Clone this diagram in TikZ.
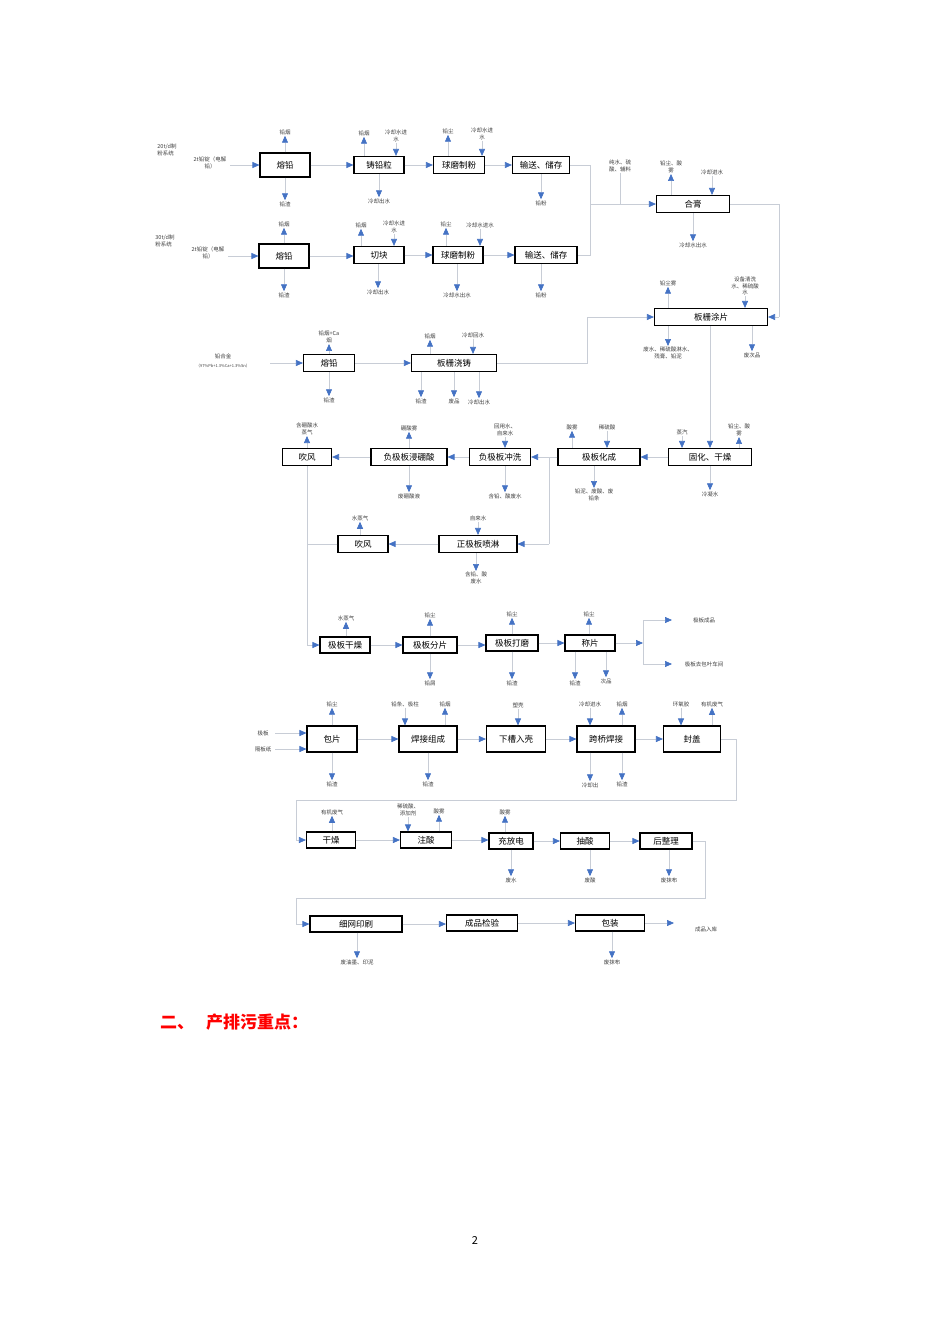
\documentclass[tikz,border=0pt]{standalone}
\usepackage{fontspec}
\setmainfont{Noto Sans CJK SC}
\usetikzlibrary{arrows.meta}
\definecolor{tipblue}{HTML}{4472C4}
\definecolor{lgray}{HTML}{C8CDD6}
\tikzset{
 bx/.style={draw,line width=1.1pt,minimum height=17pt,inner sep=0pt,font=\fontsize{8.5}{9}\selectfont},
 lab/.style={font=\fontsize{5.5}{6.5}\selectfont,text=black!75,align=center,inner sep=1pt},
 ln/.style={draw=lgray,line width=0.7pt},
 arr/.style={ln,-{Triangle[width=6pt,length=7pt,color=tipblue]}},
}
\newcommand\upout[5]{\node[lab] (#2) at (#3,#4) {#5}; \draw[arr] (#1.north -| #2) -- (#2.south);}
\newcommand\downout[5]{\node[lab] (#2) at (#3,#4) {#5}; \draw[arr] (#1.south -| #2) -- (#2.north);}
\newcommand\downin[5]{\node[lab] (#2) at (#3,#4) {#5}; \draw[arr] (#2.south) -- (#1.north -| #2);}
\begin{document}
\begin{tikzpicture}[x=1pt,y=-1pt]
\useasboundingbox[fill=white] (0,0) rectangle (950,1344);
% ---- row 1
\node[bx,minimum width=50pt,minimum height=24pt] (a1) at (285,165) {熔铅};
\node[bx,minimum width=50pt] (a2) at (379,165) {铸铅粒};
\node[bx,minimum width=51pt] (a3) at (459,165) {球磨制粉};
\node[bx,minimum width=57pt] (a4) at (541,165) {输送、储存};
\node[lab,align=left] (s1) at (167,150) {20t/d制\\粉系统};
\node[lab] (i1) at (210,163) {2t铅锭（电解\\铅）};
\coordinate (i1e) at (230,165);
\draw[arr] (i1e) -- (a1.west);
\draw[arr] (a1.east) -- (a2.west);
\draw[arr] (a2.east) -- (a3.west);
\draw[arr] (a3.east) -- (a4.west);
\upout{a1}{a1u}{285}{132}{铅烟}
\downout{a1}{a1d}{285}{204}{铅渣}
\upout{a2}{a2u}{364}{133}{铅烟}
\downin{a2}{a2i}{396}{136}{冷却水进\\水}
\downout{a2}{a2d}{379}{201}{冷却出水}
\upout{a3}{a3u}{448}{131}{铅尘}
\downin{a3}{a3i}{482}{134}{冷却水进\\水}
\downout{a4}{a4d}{541}{203}{铅粉}
% ---- row 2
\node[bx,minimum width=50pt,minimum height=24pt] (b1) at (284,256) {熔铅};
\node[bx,minimum width=50pt] (b2) at (379,255) {切块};
\node[bx,minimum width=50pt] (b3) at (458,255) {球磨制粉};
\node[bx,minimum width=62pt] (b4) at (546,255) {输送、储存};
\node[lab,align=left] (s2) at (165,241) {30t/d制\\粉系统};
\node[lab] (i2) at (208,253) {2t铅锭（电解\\铅）};
\coordinate (i2e) at (228,256);
\draw[arr] (i2e) -- (b1.west);
\draw[arr] (b1.east) -- (b1.east -| b2.west);
\draw[arr] (b2.east) -- (b3.west);
\draw[arr] (b3.east) -- (b4.west);
\upout{b1}{b1u}{284}{224}{铅烟}
\downout{b1}{b1d}{284}{295}{铅渣}
\upout{b2}{b2u}{361}{225}{铅烟}
\downin{b2}{b2i}{394}{227}{冷却水进\\水}
\downout{b2}{b2d}{378}{292}{冷却出水}
\upout{b3}{b3u}{446}{224}{铅尘}
\downin{b3}{b3i}{480}{225}{冷却水进水}
\downout{b3}{b3d}{457}{295}{冷却水出水}
\downout{b4}{b4d}{541}{295}{铅粉}
% ---- 合膏
\node[bx,minimum width=73pt] (c1) at (693,204) {合膏};
\coordinate (j1) at (590,165);
\coordinate (j2) at (590,255);
\coordinate (j3) at (590,204);
\draw[ln] (a4.east) -- (j1) -- (j2) -- (b4.east);
\draw[arr] (j3) -- (c1.west);
\node[lab] (c1in) at (620,166) {纯水、硫\\酸、辅料};
\draw[ln] (c1in.south) -- (c1in.south |- c1.west);
\upout{c1}{c1u}{671}{167}{铅尘、酸\\雾}
\downin{c1}{c1i}{712}{172}{冷却进水}
\downout{c1}{c1d}{693}{245}{冷却水出水}
% ---- 板栅涂片
\node[bx,minimum width=113pt] (c2) at (711,317) {板栅涂片};
\coordinate (k1) at (779,204);
\coordinate (k2) at (779,317);
\draw[ln] (c1.east) -- (k1) -- (k2);
\draw[arr] (k2) -- (c2.east);
\upout{c2}{c2u}{668}{283}{铅尘雾}
\downin{c2}{c2i}{745}{286}{设备清洗\\水、稀硫酸\\水}
\downout{c2}{c2d}{668}{353}{废水、稀硫酸淋水、\\残膏、铅泥}
\downout{c2}{c2e}{752}{355}{废次品}
% ---- row 3
\node[bx,minimum width=51pt] (d1) at (329,363) {熔铅};
\node[bx,minimum width=85pt] (d2) at (454,363) {板栅浇铸};
\node[lab] (i3) at (223,356) {铅合金};
\node[lab,font=\fontsize{4}{5}\selectfont] (i3b) at (223,366) {（97\%Pb+1.3\%Ca+1.3\%Sn）};
\coordinate (i3e) at (270,363);
\draw[arr] (i3e) -- (d1.west);
\draw[arr] (d1.east) -- (d2.west);
\coordinate (m1) at (587,363);
\coordinate (m2) at (587,317);
\draw[ln] (d2.east) -- (m1) -- (m2);
\draw[arr] (m2) -- (c2.west);
\upout{d1}{d1u}{329}{337}{铅烟+Ca\\烟}
\downout{d1}{d1d}{329}{400}{铅渣}
\upout{d2}{d2u}{430}{336}{铅烟}
\downin{d2}{d2i}{473}{335}{冷却回水}
\downout{d2}{d2d}{421}{401}{铅渣}
\downout{d2}{d2e}{454}{401}{废品}
\downout{d2}{d2f}{479}{402}{冷却出水}
% ---- row 4
\node[bx,minimum width=83pt] (e1) at (710,457) {固化、干燥};
\node[bx,minimum width=82pt] (e2) at (599,457) {极板化成};
\node[bx,minimum width=61pt] (e3) at (500,457) {负极板冲洗};
\node[bx,minimum width=76pt] (e4) at (409,457) {负极板浸硼酸};
\node[bx,minimum width=49pt] (e5) at (307,457) {吹风};
\draw[arr] (c2.south -| e1) -- (e1.north);
\downin{e1}{e1i}{682}{432}{蒸汽}
\upout{e1}{e1u}{739}{430}{铅尘、酸\\雾}
\downout{e1}{e1d}{710}{494}{冷凝水}
\draw[arr] (e1.west) -- (e2.east);
\upout{e2}{e2u}{572}{427}{酸雾}
\downin{e2}{e2i}{607}{427}{稀硫酸}
\downout{e2}{e2d}{594}{495}{铅泥、废酸、废\\铅条}
\coordinate (n1) at (549,457);
\coordinate (n2) at (549,544);
\draw[ln] (e2.west) -- (n1);
\draw[arr] (n1) -- (e3.east);
\downin{e3}{e3i}{505}{430}{回用水、\\自来水}
\downout{e3}{e3d}{505}{496}{含铅、酸废水}
\draw[arr] (e3.west) -- (e4.east);
\upout{e4}{e4u}{409}{428}{硼酸雾}
\downout{e4}{e4d}{409}{496}{废硼酸液}
\draw[arr] (e4.west) -- (e5.east);
\upout{e5}{e5u}{307}{429}{含硼酸水\\蒸气}
% ---- row 5
\node[bx,minimum width=78pt] (f1) at (478,544) {正极板喷淋};
\node[bx,minimum width=50pt] (f2) at (363,544) {吹风};
\draw[ln] (n1) -- (n2);
\draw[arr] (n2) -- (f1.east);
\downin{f1}{f1i}{478}{518}{自来水}
\downout{f1}{f1d}{476}{578}{含铅、酸\\废水}
\draw[arr] (f1.west) -- (f2.east);
\upout{f2}{f2u}{360}{518}{水蒸气}
% ---- row 6
\node[bx,minimum width=50pt,minimum height=16pt] (g1) at (345,645) {极板干燥};
\node[bx,minimum width=54pt,minimum height=16pt] (g2) at (430,645) {极板分片};
\node[bx,minimum width=52pt,minimum height=16pt] (g3) at (512,643) {极板打磨};
\node[bx,minimum width=50pt,minimum height=16pt] (g4) at (590,643) {称片};
\coordinate (p1) at (307,645);
\coordinate (p2) at (307,544);
\draw[ln] (e5.south) -- (p1);
\draw[ln] (f2.west) -- (p2);
\draw[arr] (p1) -- (g1.west);
\draw[arr] (g1.east) -- (g2.west);
\draw[arr] (g2.east) -- (g2.east -| g3.west);
\draw[arr] (g3.east) -- (g4.west);
\upout{g1}{g1u}{346}{618}{水蒸气}
\upout{g2}{g2u}{430}{615}{铅尘}
\downout{g2}{g2d}{430}{683}{铅屑}
\upout{g3}{g3u}{512}{614}{铅尘}
\downout{g3}{g3d}{512}{683}{铅渣}
\upout{g4}{g4u}{589}{614}{铅尘}
\downout{g4}{g4d}{575}{683}{铅渣}
\downout{g4}{g4e}{606}{681}{次品}
\coordinate (q0) at (643,643);
\coordinate (q1) at (643,620);
\coordinate (q2) at (643,664);
\coordinate (q1e) at (672,620);
\coordinate (q2e) at (672,664);
\draw[arr] (g4.east) -- (q0);
\draw[ln] (q1) -- (q2);
\draw[arr] (q1) -- (q1e);
\draw[arr] (q2) -- (q2e);
\node[lab] (o1) at (704,620) {极板成品};
\node[lab] (o2) at (704,664) {极板去包叶车间};
% ---- row 7
\node[bx,minimum width=50pt,minimum height=26pt] (h1) at (332,739) {包片};
\node[bx,minimum width=58pt,minimum height=26pt] (h2) at (428,739) {焊接组成};
\node[bx,minimum width=59pt,minimum height=26pt] (h3) at (516,739) {下槽入壳};
\node[bx,minimum width=58pt,minimum height=26pt] (h4) at (606,739) {跨桥焊接};
\node[bx,minimum width=57pt,minimum height=26pt] (h5) at (692,739) {封盖};
\node[lab] (i4) at (263,733) {极板};
\node[lab] (i5) at (263,749) {隔板纸};
\coordinate (i4e) at (275,733);
\coordinate (i5e) at (275,749);
\draw[arr] (i4e) -- (i4e -| h1.west);
\draw[arr] (i5e) -- (i5e -| h1.west);
\draw[arr] (h1.east) -- (h2.west);
\draw[arr] (h2.east) -- (h3.west);
\draw[arr] (h3.east) -- (h4.west);
\draw[arr] (h4.east) -- (h5.west);
\upout{h1}{h1u}{332}{704}{铅尘}
\downout{h1}{h1d}{332}{784}{铅渣}
\downin{h2}{h2i}{405}{704}{铅条、极柱}
\upout{h2}{h2u}{445}{704}{铅烟}
\downout{h2}{h2d}{428}{784}{铅渣}
\downin{h3}{h3i}{518}{705}{塑壳}
\downin{h4}{h4i}{590}{704}{冷却进水}
\upout{h4}{h4u}{622}{704}{铅烟}
\downout{h4}{h4d}{590}{785}{冷却出}
\downout{h4}{h4e}{622}{784}{铅渣}
\downin{h5}{h5i}{681}{704}{环氧胶}
\upout{h5}{h5u}{712}{704}{有机废气}
% ---- row 8
\node[bx,minimum width=49pt,minimum height=16pt] (k1b) at (331,840) {干燥};
\node[bx,minimum width=51pt,minimum height=16pt] (k2b) at (426,840) {注酸};
\node[bx,minimum width=44pt,minimum height=16pt] (k3b) at (511,841) {充放电};
\node[bx,minimum width=49pt,minimum height=16pt] (k4b) at (585,841) {抽酸};
\node[bx,minimum width=52pt,minimum height=16pt] (k5b) at (666,841) {后整理};
\coordinate (r1) at (736,739);
\coordinate (r2) at (736,800);
\coordinate (r3) at (296,800);
\coordinate (r4) at (296,840);
\draw[ln] (h5.east) -- (r1) -- (r2) -- (r3) -- (r4);
\draw[arr] (r4) -- (k1b.west);
\draw[arr] (k1b.east) -- (k2b.west);
\draw[arr] (k2b.east) -- (k2b.east -| k3b.west);
\draw[arr] (k3b.east) -- (k4b.west);
\draw[arr] (k4b.east) -- (k5b.west);
\upout{k1b}{k1u}{332}{812}{有机废气}
\downin{k2b}{k2i}{408}{810}{稀硫酸、\\添加剂}
\upout{k2b}{k2u}{439}{811}{酸雾}
\upout{k3b}{k3u}{505}{812}{酸雾}
\downout{k3b}{k3d}{511}{880}{废水}
\downout{k4b}{k4d}{590}{880}{废酸}
\downout{k5b}{k5d}{669}{880}{废抹布}
% ---- row 9
\node[bx,minimum width=92pt,minimum height=16pt] (l1) at (356,924) {细网印刷};
\node[bx,minimum width=71pt,minimum height=16pt] (l2) at (482,923) {成品检验};
\node[bx,minimum width=69pt,minimum height=16pt] (l3) at (610,923) {包装};
\coordinate (t1) at (705,841);
\coordinate (t2) at (705,898);
\coordinate (t3) at (296,898);
\coordinate (t4) at (296,924);
\draw[ln] (k5b.east) -- (t1) -- (t2) -- (t3) -- (t4);
\draw[arr] (t4) -- (l1.west);
\draw[arr] (l1.east) -- (l1.east -| l2.west);
\draw[arr] (l2.east) -- (l3.west);
\coordinate (u1) at (674,923);
\draw[arr] (l3.east) -- (u1);
\node[lab] (o3) at (706,929) {成品入库};
\downout{l1}{l1d}{357}{962}{废油墨、印泥}
\downout{l3}{l3d}{612}{962}{废抹布}
% ---- heading
\node[anchor=west,text=red,font=\fontsize{17}{20}\selectfont\bfseries,inner sep=0] (hd) at (160,1022) {二、\hspace{12pt}产排污重点：};
\node[font=\fontsize{11}{12}\selectfont,inner sep=0] (pg) at (475,1240) {2};
\end{tikzpicture}
\end{document}
